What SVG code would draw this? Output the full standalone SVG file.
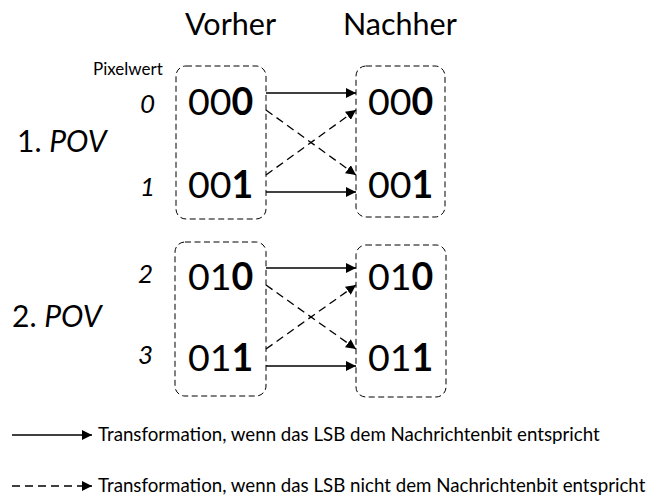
<svg xmlns="http://www.w3.org/2000/svg" width="651" height="497" viewBox="0 0 651 497">
<defs>
<marker id="ah" viewBox="0 0 10 10" refX="10" refY="5" markerWidth="10" markerHeight="10" markerUnits="userSpaceOnUse" orient="auto">
<path d="M0,0 L10,5 L0,10 z" fill="#000"/>
</marker>
<style>
text{font-family:Lato,"Open Sans","Liberation Sans",sans-serif;fill:#000}
.box{fill:none;stroke:#000;stroke-width:1;stroke-dasharray:6 3.5}
.sol{fill:none;stroke:#000;stroke-width:1.3;marker-end:url(#ah)}
.das{fill:none;stroke:#000;stroke-width:1.3;stroke-dasharray:8 5;marker-end:url(#ah)}
.big{font-size:37.5px}
.hdr{font-size:30.5px}
.idx{font-size:26px;font-style:italic}
.pov{font-size:30px}
.leg{font-size:18.7px}
</style>
</defs>
<text class="hdr" x="185" y="35">Vorher</text>
<text class="hdr" x="343" y="35">Nachher</text>
<text x="93" y="75" style="font-size:17px">Pixelwert</text>
<text class="pov" x="17" y="152">1. <tspan font-style="italic">POV</tspan></text>
<text class="pov" x="12" y="327">2. <tspan font-style="italic">POV</tspan></text>
<text class="idx" x="140" y="113">0</text>
<text class="idx" x="140" y="196">1</text>
<text class="idx" x="138" y="283">2</text>
<text class="idx" x="138" y="364">3</text>
<g id="before1">
<rect class="box" x="176" y="66" width="90" height="153" rx="10"/>
<text class="big" x="188" y="115">00<tspan font-weight="bold">0</tspan></text>
<text class="big" x="188" y="198">00<tspan font-weight="bold">1</tspan></text>
</g>
<g id="after1">
<rect class="box" x="356" y="66" width="89" height="151" rx="10"/>
<text class="big" x="368" y="115">00<tspan font-weight="bold">0</tspan></text>
<text class="big" x="368" y="198">00<tspan font-weight="bold">1</tspan></text>
</g>
<g id="before2">
<rect class="box" x="175" y="242" width="91" height="154" rx="10"/>
<text class="big" x="188" y="290">01<tspan font-weight="bold">0</tspan></text>
<text class="big" x="188" y="371">01<tspan font-weight="bold">1</tspan></text>
</g>
<g id="after2">
<rect class="box" x="356" y="245" width="90" height="152" rx="10"/>
<text class="big" x="368" y="290">01<tspan font-weight="bold">0</tspan></text>
<text class="big" x="368" y="371">01<tspan font-weight="bold">1</tspan></text>
</g>
<g id="connectors">
<line class="sol" x1="266" y1="93" x2="356" y2="93"/>
<line class="sol" x1="266" y1="192" x2="356" y2="192"/>
<line class="das" x1="266" y1="110" x2="356" y2="175"/>
<line class="das" x1="266" y1="175" x2="356" y2="110"/>
<line class="sol" x1="266" y1="268" x2="356" y2="268"/>
<line class="sol" x1="266" y1="366" x2="356" y2="366"/>
<line class="das" x1="266" y1="285" x2="356" y2="349"/>
<line class="das" x1="266" y1="349" x2="356" y2="285"/>
</g>
<g id="legend">
<line class="sol" x1="12" y1="435" x2="92" y2="435"/>
<text class="leg" x="98" y="441">Transformation, wenn das LSB dem Nachrichtenbit entspricht</text>
<line class="das" x1="12" y1="486" x2="92" y2="486"/>
<text class="leg" x="98" y="492">Transformation, wenn das LSB nicht dem Nachrichtenbit entspricht</text>
</g>
</svg>
